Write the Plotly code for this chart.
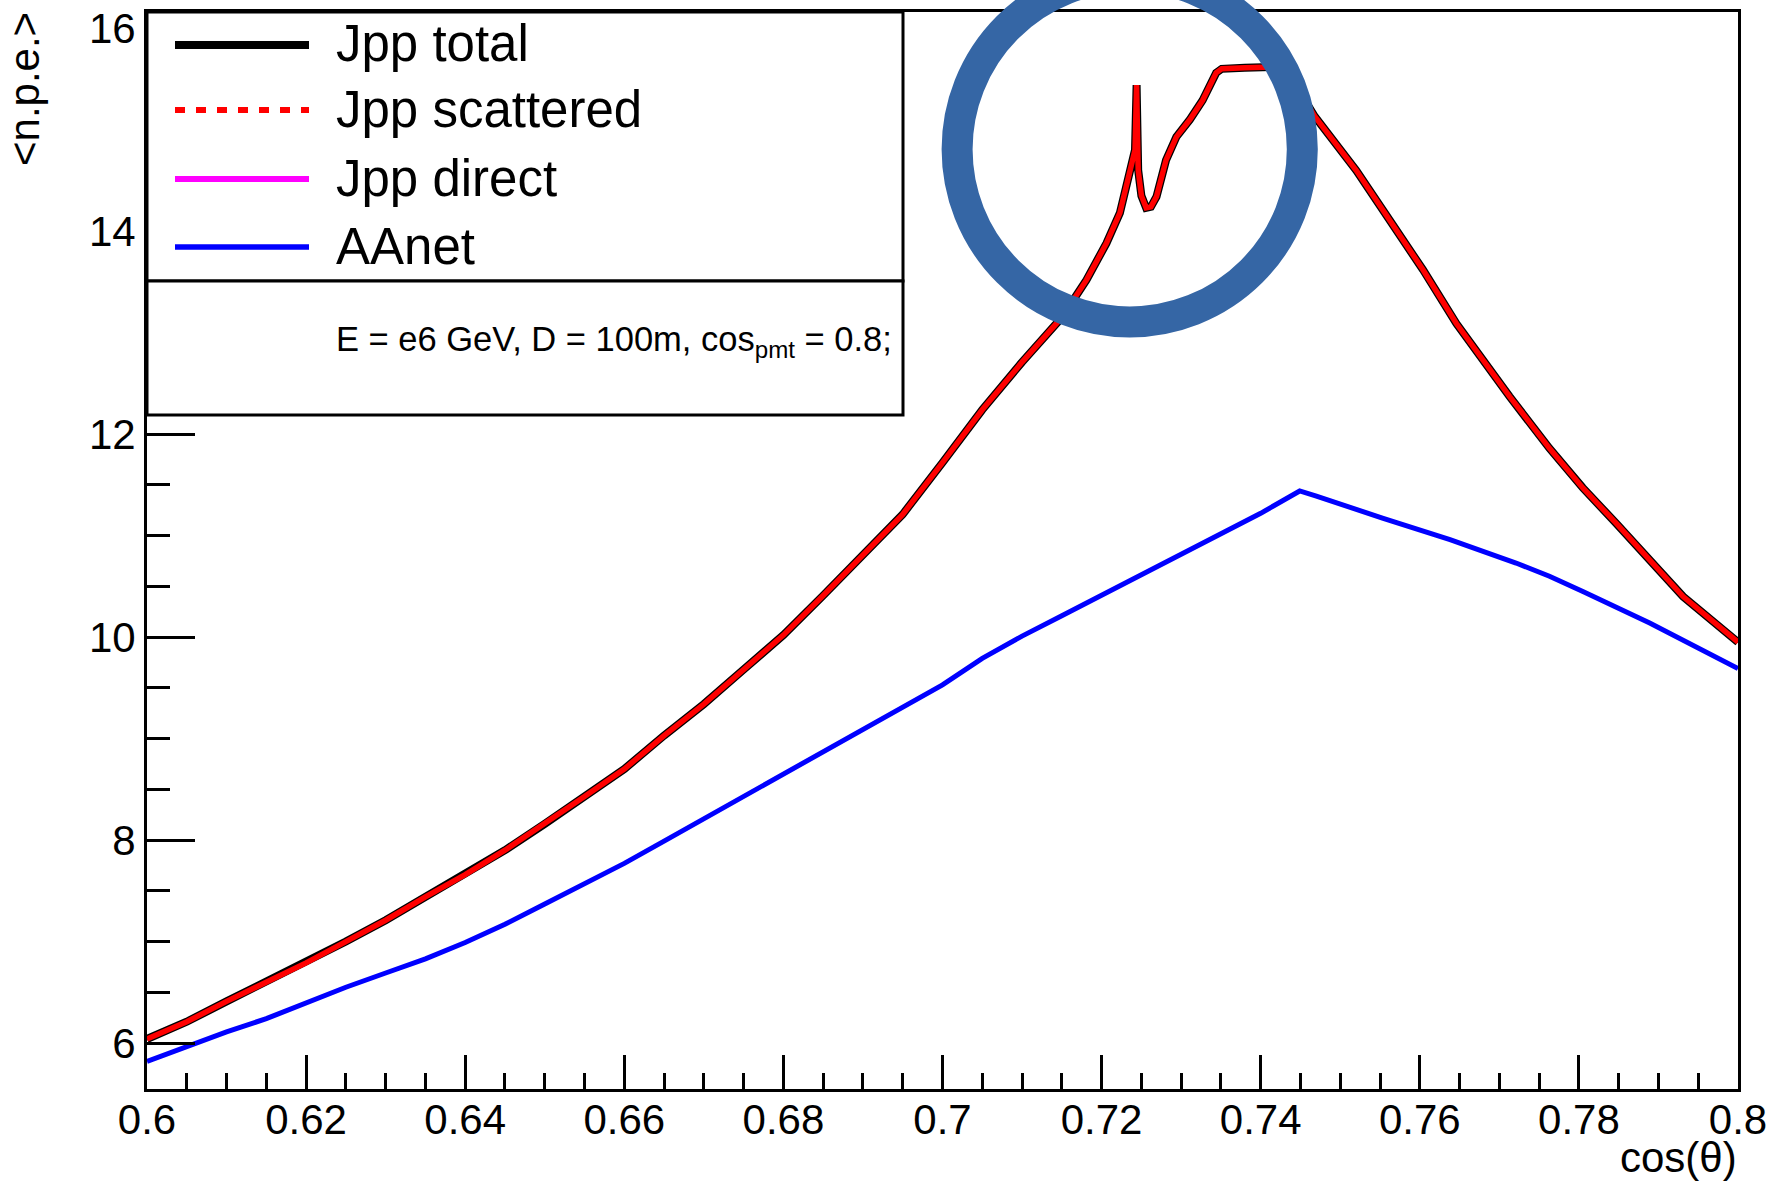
import plotly.graph_objects as go

# ---------------- data ----------------
cos_theta_jpp = [0.600, 0.605, 0.610, 0.615, 0.620, 0.625, 0.630, 0.635, 0.640, 0.645,
                 0.650, 0.655, 0.660, 0.665, 0.670, 0.675, 0.680, 0.685, 0.690, 0.695,
                 0.700, 0.705, 0.710, 0.715, 0.7181, 0.7206, 0.7223, 0.7235, 0.7242, 0.7244,
                 0.7246, 0.7250, 0.7256, 0.7262, 0.7269, 0.7281, 0.7294, 0.7311, 0.7327, 0.7344,
                 0.7351, 0.7380, 0.7403, 0.7430, 0.7468, 0.7520, 0.7562, 0.7604, 0.7646, 0.7688,
                 0.7713, 0.7763, 0.7805, 0.7847, 0.7889, 0.7931, 0.8000]
jpp_total = [6.04, 6.21, 6.41, 6.60, 6.79, 7.00, 7.21, 7.44, 7.66, 7.90,
             8.16, 8.43, 8.70, 9.03, 9.34, 9.68, 10.02, 10.41, 10.81, 11.21,
             11.72, 12.24, 12.71, 13.15, 13.52, 13.88, 14.18, 14.57, 14.80, 15.44,
             14.60, 14.35, 14.23, 14.24, 14.34, 14.70, 14.93, 15.10, 15.29, 15.56,
             15.60, 15.61, 15.62, 15.62, 15.13, 14.60, 14.11, 13.62, 13.09, 12.63,
             12.37, 11.86, 11.47, 11.12, 10.76, 10.40, 9.95]
jpp_scattered = [6.04, 6.21, 6.41, 6.60, 6.79, 7.00, 7.21, 7.44, 7.66, 7.90,
                 8.16, 8.43, 8.70, 9.03, 9.34, 9.68, 10.02, 10.41, 10.81, 11.21,
                 11.72, 12.24, 12.71, 13.15, 13.52, 13.88, 14.18, 14.57, 14.80, 15.44,
                 14.60, 14.35, 14.23, 14.24, 14.34, 14.70, 14.93, 15.10, 15.29, 15.56,
                 15.60, 15.61, 15.62, 15.62, 15.13, 14.60, 14.11, 13.62, 13.09, 12.63,
                 12.37, 11.86, 11.47, 11.12, 10.76, 10.40, 9.95]

cos_theta_aanet = [0.600, 0.605, 0.610, 0.615, 0.620, 0.625, 0.630, 0.635, 0.640, 0.645,
                   0.650, 0.655, 0.660, 0.665, 0.670, 0.675, 0.680, 0.685, 0.690, 0.695,
                   0.700, 0.705, 0.710, 0.715, 0.720, 0.725, 0.730, 0.735, 0.740, 0.7449,
                   0.7470, 0.7554, 0.7638, 0.7721, 0.7763, 0.7805, 0.7889, 0.8000]
aanet = [5.82, 5.97, 6.11, 6.24, 6.40, 6.55, 6.69, 6.83, 6.99, 7.17,
         7.37, 7.57, 7.77, 7.99, 8.21, 8.43, 8.64, 8.87, 9.08, 9.30,
         9.53, 9.79, 10.01, 10.21, 10.41, 10.61, 10.81, 11.02, 11.22, 11.44,
         11.39, 11.17, 10.96, 10.73, 10.60, 10.45, 10.14, 9.69]

x_tickvals = [0.60, 0.62, 0.64, 0.66, 0.68, 0.70, 0.72, 0.74, 0.76, 0.78, 0.80]
x_ticktext = ["0.6", "0.62", "0.64", "0.66", "0.68", "0.7", "0.72", "0.74", "0.76", "0.78", "0.8"]
y_tickvals = [6, 8, 10, 12, 14, 16]
y_ticktext = ["6", "8", "10", "12", "14", "16"]

legend_labels = ["Jpp total", "Jpp scattered", "Jpp direct", "AAnet"]
legend_colors = ["#000000", "#ff0000", "#ff00ff", "#0000ff"]
info_text = "E = e6 GeV, D = 100m, cos<sub>pmt</sub> = 0.8;"

# ---------------- layout geometry (pixels) ----------------
W, H = 1774, 1184
L, R, T, B = 147, 36, 12, 95
PW, PH = W - L - R, H - T - B
FONT = "Liberation Sans, Arial, Helvetica, sans-serif"


def px(x):
    return (x - L) / PW


def py(y):
    return (H - B - y) / PH


fig = go.Figure()
fig.add_trace(go.Scatter(x=cos_theta_jpp, y=jpp_total, mode="lines",
                         line=dict(color="#000000", width=8), name="Jpp total",
                         showlegend=False))
fig.add_trace(go.Scatter(x=cos_theta_jpp, y=jpp_scattered, mode="lines",
                         line=dict(color="#ff0000", width=5.5), name="Jpp scattered",
                         showlegend=False))
fig.add_trace(go.Scatter(x=cos_theta_aanet, y=aanet, mode="lines",
                         line=dict(color="#0000ff", width=5), name="AAnet",
                         showlegend=False))

axis_common = dict(showline=True, linecolor="black", linewidth=3, mirror=True,
                   ticks="inside", tickcolor="black", tickwidth=3,
                   showgrid=False, zeroline=False, automargin=False,
                   tickfont=dict(family=FONT, size=42, color="black"))

fig.update_xaxes(range=[0.6, 0.8], tickvals=x_tickvals, ticktext=x_ticktext,
                 ticklen=34, ticklabelstandoff=-8,
                 minor=dict(ticks="inside", ticklen=16, tickwidth=3, tickcolor="black",
                            dtick=0.005, tick0=0.6, showgrid=False),
                 **axis_common)
fig.update_yaxes(range=[5.547, 16.16], tickvals=y_tickvals, ticktext=y_ticktext,
                 ticklen=48,
                 minor=dict(ticks="inside", ticklen=23, tickwidth=3, tickcolor="black",
                            dtick=0.5, tick0=6, showgrid=False),
                 **axis_common)

shapes = []
# legend boxes (white filled, above axes)
shapes.append(dict(type="rect", xref="paper", yref="paper",
                   x0=px(147), x1=px(903), y0=py(281), y1=py(12),
                   line=dict(color="black", width=3), fillcolor="white", layer="above"))
shapes.append(dict(type="rect", xref="paper", yref="paper",
                   x0=px(147), x1=px(903), y0=py(415), y1=py(281),
                   line=dict(color="black", width=3), fillcolor="white", layer="above"))
leg_y = [45, 110, 179, 247]
leg_w = [8, 6, 6, 5.5]
leg_dash = ["solid", "10px,11px", "solid", "solid"]
for yy, c, w, d in zip(leg_y, legend_colors, leg_w, leg_dash):
    shapes.append(dict(type="line", xref="paper", yref="paper",
                       x0=px(175), x1=px(309), y0=py(yy), y1=py(yy),
                       line=dict(color=c, width=w, dash=d), layer="above"))
# highlight circle
cx, cy, r = 1129.7, 149.3, 172.6
shapes.append(dict(type="circle", xref="paper", yref="paper",
                   x0=px(cx - r), x1=px(cx + r), y0=py(cy + r), y1=py(cy - r),
                   line=dict(color="#3566a5", width=31), layer="above"))

annotations = []
for yy, lab in zip(leg_y, legend_labels):
    annotations.append(dict(xref="paper", yref="paper", x=px(334), y=py(yy - 1),
                            xanchor="left", yanchor="middle", text=lab, showarrow=False,
                            font=dict(family=FONT, size=51, color="black")))
annotations.append(dict(xref="paper", yref="paper", x=px(334), y=py(341),
                        xanchor="left", yanchor="middle", text=info_text, showarrow=False,
                        font=dict(family=FONT, size=34.5, color="black")))
annotations.append(dict(xref="paper", yref="paper", x=px(25), y=py(10),
                        xanchor="center", yanchor="top", text="&lt;n.p.e.&gt;",
                        textangle=-90, showarrow=False,
                        font=dict(family=FONT, size=42, color="black")))
annotations.append(dict(xref="paper", yref="paper", x=px(1739), y=py(1183),
                        xanchor="right", yanchor="bottom", text="cos(θ)", showarrow=False,
                        font=dict(family=FONT, size=42, color="black")))

fig.update_layout(width=W, height=H, margin=dict(l=L, r=R, t=T, b=B),
                  paper_bgcolor="white", plot_bgcolor="white",
                  shapes=shapes, annotations=annotations, showlegend=False)

fig.write_html("out.html")
